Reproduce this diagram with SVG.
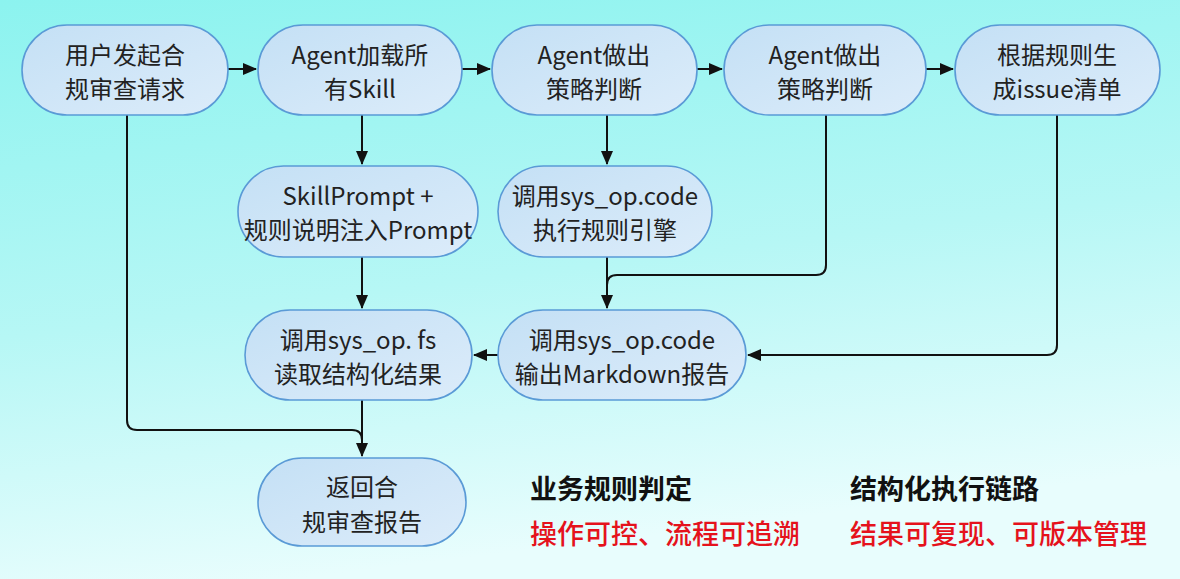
<svg xmlns="http://www.w3.org/2000/svg" width="1180" height="579" viewBox="0 0 1180 579">
<defs>
<linearGradient id="bg" x1="0" y1="0" x2="0.25" y2="1">
<stop offset="0" stop-color="#8cf3ef"/>
<stop offset="0.55" stop-color="#b6f7f5"/>
<stop offset="1" stop-color="#e8fdfd"/>
</linearGradient>
<linearGradient id="nf" x1="0" y1="0" x2="1" y2="1">
<stop offset="0" stop-color="#c4e0f5"/>
<stop offset="1" stop-color="#dcecfa"/>
</linearGradient>
<marker id="ah" viewBox="0 0 14 12" refX="13" refY="6" markerWidth="14" markerHeight="12" markerUnits="userSpaceOnUse" orient="auto">
<path d="M0,0 L14,6 L0,12 Z" fill="#111"/>
</marker>
<style>
.n{fill:url(#nf);stroke:#5a9ad6;stroke-width:1.6}
.t{font-family:"Noto Sans CJK SC","Noto Sans",sans-serif;font-size:24px;fill:#222;text-anchor:middle;dominant-baseline:central}
.c{fill:none;stroke:#111;stroke-width:2}
.h{font-family:"Noto Sans CJK SC","Noto Sans",sans-serif;font-size:27px;font-weight:700;fill:#111}
.r{font-family:"Noto Sans CJK SC","Noto Sans",sans-serif;font-size:27px;font-weight:500;fill:#e5121c}
</style>
</defs>
<rect width="1180" height="579" fill="url(#bg)"/>

<g id="connectors">
<path class="c" d="M228 69 H256" marker-end="url(#ah)"/>
<path class="c" d="M462 69 H490" marker-end="url(#ah)"/>
<path class="c" d="M697 69 H722" marker-end="url(#ah)"/>
<path class="c" d="M926 69 H953" marker-end="url(#ah)"/>
<path class="c" d="M362 115 V164" marker-end="url(#ah)"/>
<path class="c" d="M607 115 V164" marker-end="url(#ah)"/>
<path class="c" d="M362 257 V308" marker-end="url(#ah)"/>
<path class="c" d="M607 257 V308" marker-end="url(#ah)"/>
<path class="c" d="M826 115 V265 Q826 275 816 275 H617 Q607 275 607 285"/>
<path class="c" d="M1057 115 V345 Q1057 355 1047 355 H748" marker-end="url(#ah)"/>
<path class="c" d="M498 355 H474" marker-end="url(#ah)"/>
<path class="c" d="M362 400 V456" marker-end="url(#ah)"/>
<path class="c" d="M127 115 V420 Q127 430 137 430 H352 Q362 430 362 440"/>
</g>

<g id="n1"><rect class="n" x="22" y="25" width="206" height="90" rx="45"/>
<text class="t" x="125" y="53">用户发起合</text><text class="t" x="125" y="87">规审查请求</text></g>
<g id="n2"><rect class="n" x="258" y="25" width="204" height="90" rx="45"/>
<text class="t" x="360" y="53">Agent加载所</text><text class="t" x="360" y="87">有Skill</text></g>
<g id="n3"><rect class="n" x="492" y="25" width="205" height="90" rx="45"/>
<text class="t" x="594" y="53">Agent做出</text><text class="t" x="594" y="87">策略判断</text></g>
<g id="n4"><rect class="n" x="724" y="25" width="202" height="90" rx="45"/>
<text class="t" x="825" y="53">Agent做出</text><text class="t" x="825" y="87">策略判断</text></g>
<g id="n5"><rect class="n" x="955" y="25" width="205" height="90" rx="45"/>
<text class="t" x="1057" y="53">根据规则生</text><text class="t" x="1057" y="87">成issue清单</text></g>
<g id="n6"><rect class="n" x="238" y="166" width="240" height="91" rx="45.5"/>
<text class="t" x="358" y="194">SkillPrompt +</text><text class="t" x="358" y="228">规则说明注入Prompt</text></g>
<g id="n7"><rect class="n" x="498" y="166" width="214" height="91" rx="45.5"/>
<text class="t" x="605" y="194">调用sys_op.code</text><text class="t" x="605" y="228">执行规则引擎</text></g>
<g id="n8"><rect class="n" x="245" y="310" width="227" height="90" rx="45"/>
<text class="t" x="358" y="338">调用sys_op. fs</text><text class="t" x="358" y="372">读取结构化结果</text></g>
<g id="n9"><rect class="n" x="498" y="310" width="248" height="90" rx="45"/>
<text class="t" x="622" y="338">调用sys_op.code</text><text class="t" x="622" y="372">输出Markdown报告</text></g>
<g id="n10"><rect class="n" x="258" y="458" width="208" height="88" rx="44"/>
<text class="t" x="362" y="485">返回合</text><text class="t" x="362" y="520">规审查报告</text></g>

<g id="legend">
<text class="h" x="530" y="499">业务规则判定</text>
<text class="r" x="530" y="544">操作可控、流程可追溯</text>
<text class="h" x="850" y="499">结构化执行链路</text>
<text class="r" x="850" y="544">结果可复现、可版本管理</text>
</g>
</svg>
